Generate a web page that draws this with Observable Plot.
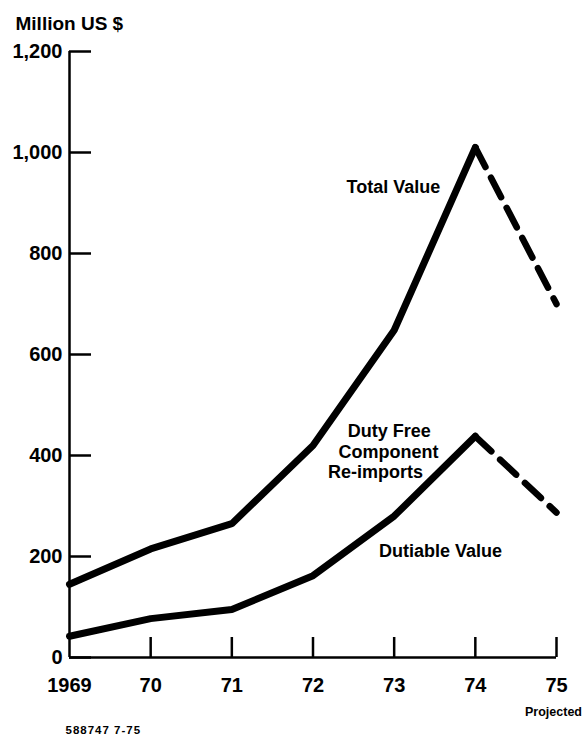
<!DOCTYPE html>
<html><head><meta charset="utf-8">
<script src="https://cdn.jsdelivr.net/npm/d3@7"></script>
<script src="https://cdn.jsdelivr.net/npm/@observablehq/plot@0.6"></script>
<style>
body{margin:0;background:#fff}
svg{display:block}
.code text{letter-spacing:1px}
</style>
</head><body><div id="chart"></div>
<script>
const years = [1969, 1970, 1971, 1972, 1973, 1974, 1975];
const totalValue = [145, 215, 265, 420, 648, 1010, 700];
const dutiableValue = [42, 77, 95, 162, 280, 438, 287];
const projectedFrom = 1974;
const yTicks = [0, 200, 400, 600, 800, 1000, 1200];
const xTickLabels = ["1969", "70", "71", "72", "73", "74", "75"];
const titleText = "Million US $";
const projectedLabel = "Projected";
const codeText = "588747 7-75";
const annotations = [
  {year: 1972.99, value: 931, text: "Total Value"},
  {year: 1972.94, value: 448, text: "Duty Free"},
  {year: 1972.93, value: 406, text: "Component"},
  {year: 1972.77, value: 367, text: "Re-imports"},
  {year: 1973.57, value: 210, text: "Dutiable Value"}
];

const rows = [];
years.forEach((y, i) => {
  rows.push({series: "Total", year: y, value: totalValue[i]});
  rows.push({series: "Dutiable", year: y, value: dutiableValue[i]});
});
const solid = rows.filter(d => d.year <= projectedFrom);
const dashed = rows.filter(d => d.year >= projectedFrom);

const FONT = "'Liberation Sans',Arial,sans-serif";

const chart = Plot.plot({
  width: 586,
  height: 738,
  marginLeft: 69,
  marginRight: 30,
  marginTop: 51,
  marginBottom: 81,
  x: {domain: [1969, 1975]},
  y: {domain: [0, 1200]},
  style: {fontFamily: FONT, fontWeight: "bold", color: "#000", background: "#fff"},
  marks: [
    Plot.ruleX([1969], {y1: 0, y2: 1200, strokeWidth: 2.5}),
    Plot.ruleY([0], {x1: 1969, x2: 1975, strokeWidth: 2.5}),
    Plot.axisY(yTicks, {tickSize: -22, tickFormat: () => "", strokeWidth: 2.5, label: null}),
    Plot.axisY(yTicks, {tickSize: 0, tickPadding: 7, fontSize: 20, tickFormat: d3.format(","), label: null}),
    Plot.axisX(years.slice(1), {anchor: "bottom", tickSize: -20, tickFormat: () => "", strokeWidth: 2.5, label: null}),
    Plot.axisX(years, {anchor: "bottom", tickSize: 0, tickPadding: 20, fontSize: 20,
      tickFormat: d => xTickLabels[years.indexOf(d)], label: null}),
    Plot.line(solid, {x: "year", y: "value", z: "series", stroke: "#000", strokeWidth: 7, strokeLinejoin: "miter"}),
    Plot.line(dashed, {x: "year", y: "value", z: "series", stroke: "#000", strokeWidth: 6.5, strokeDasharray: "22,12"}),
    Plot.text(annotations, {x: "year", y: "value", text: "text", fontSize: 18, textAnchor: "middle"}),
    Plot.text([titleText], {frameAnchor: "top-left", textAnchor: "start", lineAnchor: "top", dx: -54, dy: -35, fontSize: 19}),
    Plot.text([{year: 1975, label: projectedLabel}], {x: "year", text: "label", frameAnchor: "bottom", dx: -3, dy: 58, fontSize: 12.5}),
    Plot.text([codeText], {frameAnchor: "bottom-left", textAnchor: "start", dx: -4, dy: 76, fontSize: 11.5, className: "code"})
  ]
});
document.getElementById("chart").append(chart);
</script>
</body></html>
